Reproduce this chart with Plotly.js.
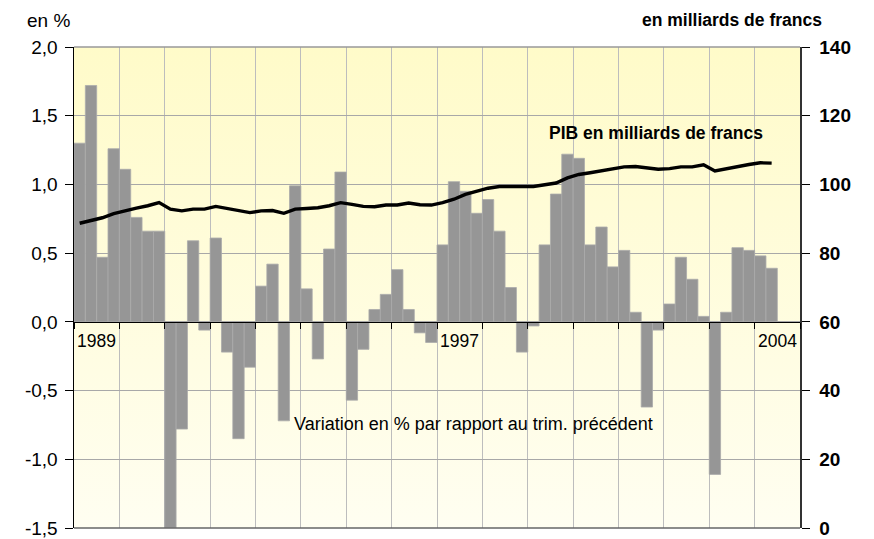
<!DOCTYPE html>
<html><head><meta charset="utf-8">
<script src="https://cdn.plot.ly/plotly-3.0.1.min.js"></script>
<style>html,body{margin:0;padding:0;background:#fff}</style>
</head><body><div id="chart" style="width:874px;height:539px"></div>
<script>
// Years shown (4 quarters each)
const years = [1989,1990,1991,1992,1993,1994,1995,1996,1997,1998,1999,2000,2001,2002,2003,2004];
const labelledYears = ["1989","1997","2004"];

// Variation en % par rapport au trimestre précédent (1989T1 .. 2004T2)
const variation = [1.30,1.72,0.47,1.26,1.11,0.76,0.66,0.66,
  -1.50,-0.78,0.59,-0.06,0.61,-0.22,-0.85,-0.33,
  0.26,0.42,-0.72,0.99,0.24,-0.27,0.53,1.09,
  -0.57,-0.20,0.09,0.20,0.38,0.09,-0.08,-0.15,
  0.56,1.02,0.95,0.79,0.89,0.66,0.25,-0.22,
  -0.03,0.56,0.93,1.22,1.19,0.56,0.69,0.40,
  0.52,0.07,-0.62,-0.06,0.13,0.47,0.31,0.04,
  -1.11,0.07,0.54,0.52,0.48,0.39];

// PIB en milliards de francs
const pib = [88.7,89.6,90.3,91.5,92.4,93.1,93.8,94.7,
  92.8,92.3,92.8,92.8,93.6,93.0,92.4,91.8,
  92.3,92.4,91.6,92.8,93.0,93.2,93.8,94.7,
  94.2,93.6,93.5,94.0,94.0,94.6,94.1,94.0,
  94.7,95.7,97.1,98.0,98.9,99.4,99.4,99.4,
  99.4,99.9,100.4,101.9,102.9,103.4,103.9,104.6,
  105.1,105.2,104.7,104.4,104.6,105.1,105.1,105.7,
  103.9,104.6,105.3,105.8,106.3,106.2];

const leftTickVals = [-1.5,-1.0,-0.5,0,0.5,1.0,1.5,2.0];
const leftTickText = ["-1,5","-1,0","-0,5","0,0","0,5","1,0","1,5","2,0"];
const rightTickVals = [0,20,40,60,80,100,120,140];
const rightTickText = ["0","20","40","60","80","100","120","140"];

// quarter labels and index positions
const quarters = [];
years.forEach(y => { for (let q = 1; q <= 4; q++) quarters.push(y + "T" + q); });
const qLabels = quarters.slice(0, variation.length);
const xIdx = qLabels.map((_, i) => i);
const yearBounds = years.map((_, i) => i * 4 - 0.5).concat([years.length * 4 - 0.5]);

const FONT = "Liberation Sans, Arial, sans-serif";

const svg = '<svg xmlns="http://www.w3.org/2000/svg" width="100" height="100" preserveAspectRatio="none">' +
  '<defs><linearGradient id="g" x1="0" y1="0" x2="0" y2="1">' +
  '<stop offset="0" stop-color="#FFFBC9"/><stop offset="1" stop-color="#FFFEF1"/></linearGradient></defs>' +
  '<rect width="100" height="100" fill="url(#g)"/></svg>';

const traces = [
  {
    type: "bar", x: xIdx, y: variation, hovertext: qLabels, hoverinfo: "text+y",
    textposition: "none",
    marker: { color: "#969696", line: { color: "#ababab", width: 0.8 } },
    yaxis: "y", xaxis: "x", showlegend: false
  },
  {
    type: "scatter", mode: "lines", x: xIdx, y: pib, hovertext: qLabels,
    line: { color: "#000000", width: 3.4 },
    yaxis: "y2", xaxis: "x", showlegend: false
  }
];

const yearAnn = labelledYears.map(lbl => {
  const i = years.indexOf(Number(lbl));
  return { text: lbl, x: i * 4 + 1.5, xref: "x", y: 0.3888, yref: "paper",
    showarrow: false, xanchor: "center", yanchor: "middle",
    font: { family: FONT, size: 17.5, color: "#000" } };
});

const layout = {
  width: 874, height: 539,
  margin: { l: 74, r: 74, t: 47, b: 11, pad: 0 },
  paper_bgcolor: "#ffffff",
  plot_bgcolor: "rgba(0,0,0,0)",
  bargap: 0,
  font: { family: FONT, size: 18, color: "#000" },
  images: [{ source: "data:image/svg+xml;utf8," + encodeURIComponent(svg),
    xref: "paper", yref: "paper", x: 0, y: 1, sizex: 1, sizey: 1,
    sizing: "stretch", layer: "below", xanchor: "left", yanchor: "top" }],
  xaxis: {
    range: [-0.5, years.length * 4 - 0.5],
    anchor: "free", position: 1.5 / 3.5,
    tickmode: "array", tickvals: yearBounds, showticklabels: false,
    ticks: "outside", ticklen: 6, tickcolor: "#000", tickwidth: 1,
    showgrid: true, gridcolor: "#bdbdbd", gridwidth: 1,
    showline: true, linecolor: "#000", linewidth: 1,
    zeroline: false, fixedrange: true
  },
  yaxis: {
    range: [-1.5, 2.0],
    tickmode: "array", tickvals: leftTickVals, ticktext: leftTickText,
    ticks: "outside", ticklen: 8, tickcolor: "#000", ticklabelstandoff: 3,
    showgrid: true, gridcolor: "#a8a8a8", gridwidth: 1,
    showline: true, linecolor: "#000", linewidth: 1.5,
    zeroline: false,
    tickfont: { family: FONT, size: 19, color: "#000" }
  },
  yaxis2: {
    range: [0, 140], overlaying: "y", side: "right",
    tickmode: "array", tickvals: rightTickVals, ticktext: rightTickText.map(t => "<b>" + t + "</b>"),
    ticks: "outside", ticklen: 8, tickcolor: "#000", ticklabelstandoff: 6,
    showgrid: false, showline: true, linecolor: "#333", linewidth: 1.5,
    zeroline: false,
    tickfont: { family: FONT, size: 19, color: "#000" }
  },
  shapes: [
    { type: "line", xref: "paper", yref: "paper", x0: 0, x1: 1, y0: 1, y1: 1,
      line: { color: "#999", width: 1.5 } },
    { type: "line", xref: "paper", yref: "paper", x0: 0, x1: 1, y0: 0, y1: 0,
      line: { color: "#666", width: 1.5 } }
  ],
  annotations: [
    { text: "en %", xref: "paper", yref: "paper", x: -0.0675, y: 1.056,
      xanchor: "left", yanchor: "middle", showarrow: false,
      font: { family: FONT, size: 19, color: "#000" } },
    { text: "<b>en milliards de francs</b>", xref: "paper", yref: "paper", x: 0.7796, y: 1.056,
      xanchor: "left", yanchor: "middle", showarrow: false,
      font: { family: FONT, size: 17.5, color: "#000" } },
    { text: "<b>PIB en milliards de francs</b>", xref: "paper", yref: "paper", x: 0.6515, y: 0.8212,
      xanchor: "left", yanchor: "middle", showarrow: false,
      font: { family: FONT, size: 17.5, color: "#000" } },
    { text: "Variation en % par rapport au trim. précédent", xref: "paper", yref: "paper", x: 0.3003, y: 0.2162,
      xanchor: "left", yanchor: "middle", showarrow: false,
      font: { family: FONT, size: 18, color: "#000" } }
  ].concat(yearAnn)
};

Plotly.newPlot("chart", traces, layout, { displayModeBar: false, staticPlot: true });
</script></body></html>
